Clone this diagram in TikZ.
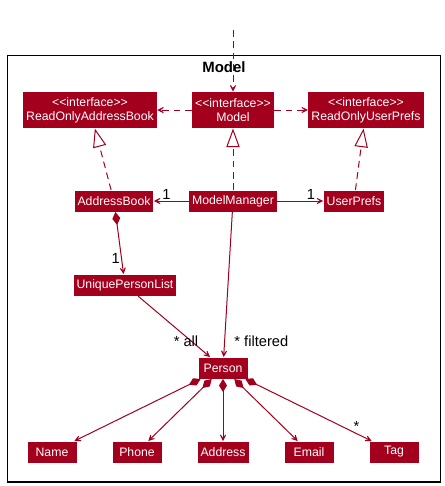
\documentclass[tikz,border=0pt]{standalone}
\usepackage{fontspec}
\setmainfont{Liberation Sans}
\usetikzlibrary{arrows.meta,positioning}
\definecolor{umlred}{RGB}{162,0,28}

\begin{document}
\begin{tikzpicture}[x=0.75pt, y=-0.75pt, line width=0.75pt,
  cls/.style = {fill=umlred, text=white, inner xsep=2.25pt, inner ysep=1pt, minimum height=15.75pt, font=\fontsize{9.2}{10.5}\selectfont},
  iface/.style = {cls, align=center, minimum height=27pt},
  leaf/.style = {cls, minimum width=36.75pt},
  lbl/.style = {font=\fontsize{11}{13}\selectfont, text=black, inner sep=1pt},
  dep/.style = {draw=umlred, dash pattern=on 5pt off 3.5pt, -{Stealth[length=7.5pt, width=7.5pt, inset=5pt]}},
  realize/.style = {draw=umlred, dash pattern=on 5pt off 3.5pt, -{Triangle[length=14pt, width=10pt, fill=white]}},
  assoc/.style = {draw=umlred, -{Stealth[length=7.5pt, width=7.5pt, inset=5pt]}},
  comp/.style = {draw=umlred, {Diamond[length=9.75pt, width=6pt]}-{Stealth[length=7.5pt, width=7.5pt, inset=5pt]}}]
\useasboundingbox (0,0) rectangle (445,486);

% package frame
\draw[line width=1.1pt] (7.5,55.5) rectangle (440.5,482);
\node[font=\bfseries\fontsize{11.2}{13}\selectfont] (title) at (224,67) {Model};

% interfaces
\node[iface] (model) at (233,110) {<{}<interface>{}>\\Model};
\node[iface] (rab) [left of=model, node distance=107.25pt] {<{}<interface>{}>\\ReadOnlyAddressBook};
\node[iface] (rup) [right of=model, node distance=99.75pt] {<{}<interface>{}>\\ReadOnlyUserPrefs};

% classes
\node[cls] (mm) [below of=model, node distance=68.25pt] {ModelManager};
\node[cls] (ab) [left of=mm, node distance=89.25pt] {AddressBook};
\node[cls] (up) [right of=mm, node distance=90.75pt] {UserPrefs};
\node[cls] (upl) [below of=ab, node distance=63pt, xshift=8.25pt] {UniquePersonList};
\node[leaf] (person) [below of=mm, node distance=125.25pt, xshift=-7.5pt] {Person};

% fields of a person
\node[leaf] (address) [below of=person, node distance=63pt] {Address};
\node[leaf] (phone) [left of=address, node distance=64.5pt] {Phone};
\node[leaf] (name) [left of=phone, node distance=63.75pt] {Name};
\node[leaf] (email) [right of=address, node distance=64.5pt] {Email};
\node[leaf] (tag) [right of=email, node distance=63.75pt] {Tag};

\coordinate (src) at (233,30);
\draw[dep] (src) -- (model);
\draw[dep] (model) -- (rab);
\draw[dep] (model) -- (rup);

\draw[realize] (ab) -- (rab);
\draw[realize] (mm) -- (model);
\draw[realize] (up) -- (rup);

\draw[assoc] (mm) -- node[lbl, pos=0.64, above] {1} (ab);
\draw[assoc] (mm) -- node[lbl, pos=0.73, above] {1} (up);
\draw[comp] (ab) -- node[lbl, pos=0.75, left] {1} (upl);
\draw[assoc] (upl) -- node[lbl, pos=0.75, xshift=-4.5pt] {* all} (person);
\draw[assoc] (mm) -- node[lbl, pos=0.89, right=6pt] {* filtered} (person);

\draw[comp] (person) -- (name);
\draw[comp] (person) -- (phone);
\draw[comp] (person) -- (address);
\draw[comp] (person) -- (email);
\draw[comp] (person) -- node[lbl, pos=0.88, above] {*} (tag);
\end{tikzpicture}
\end{document}
